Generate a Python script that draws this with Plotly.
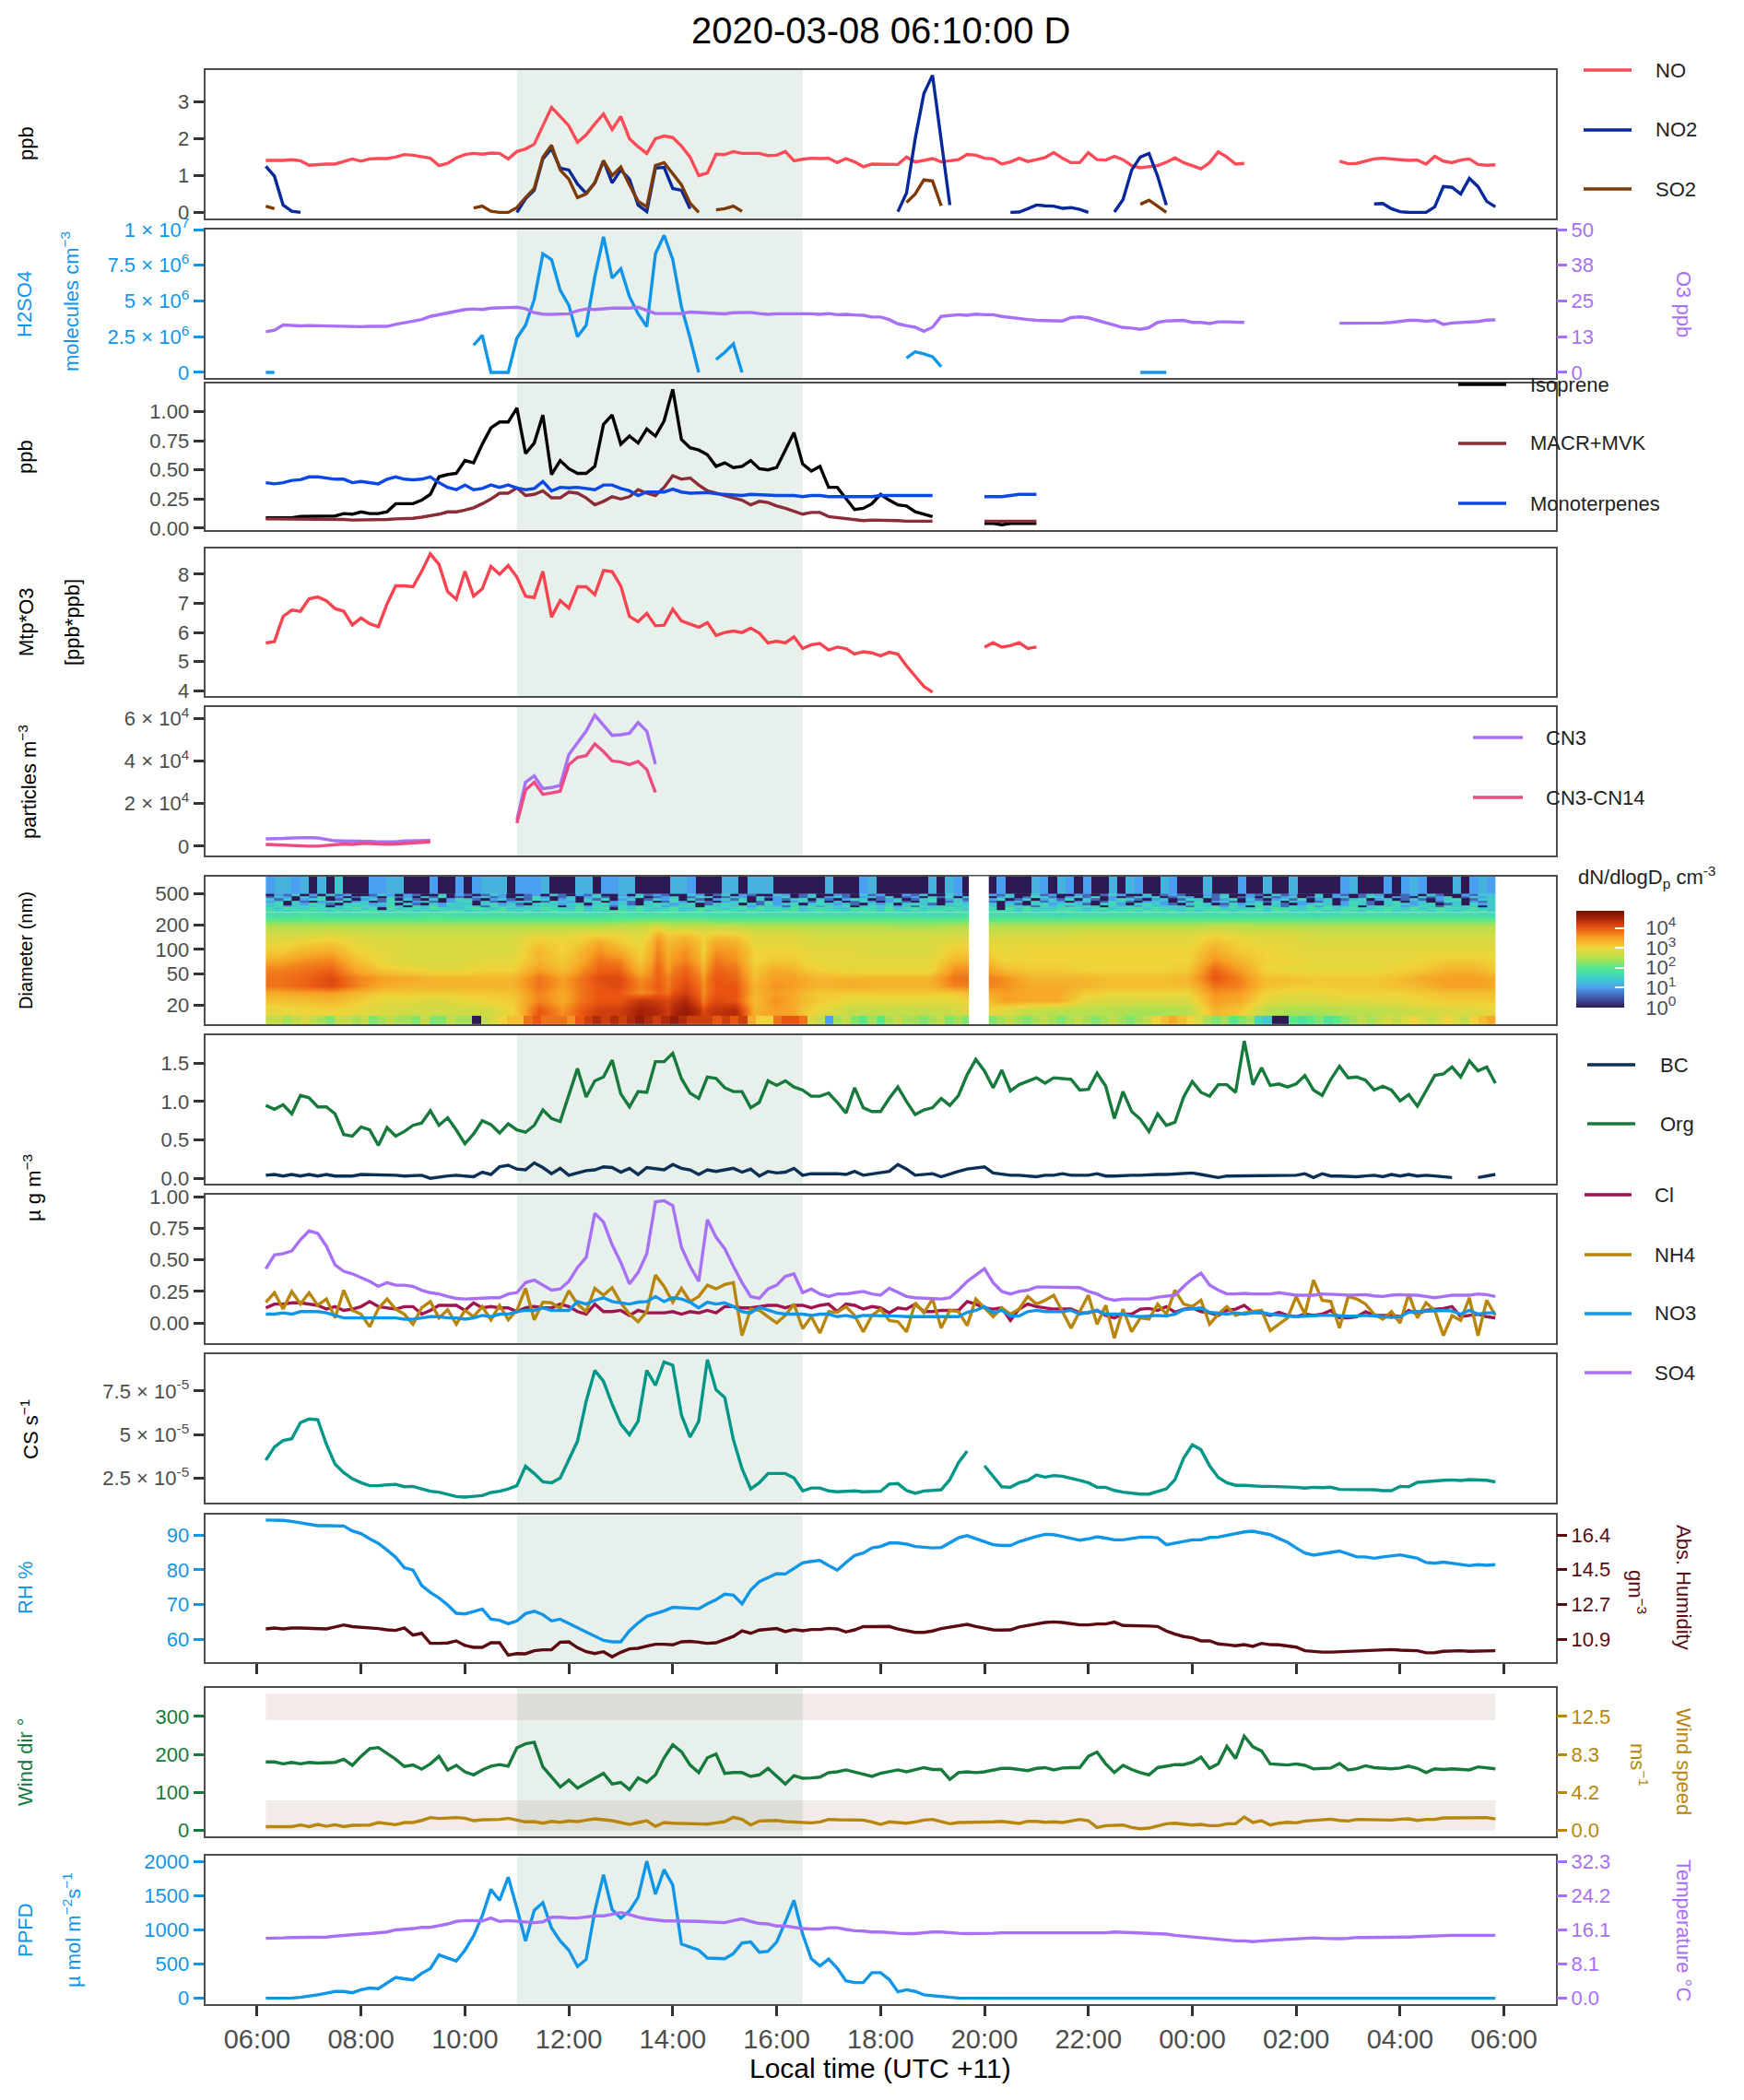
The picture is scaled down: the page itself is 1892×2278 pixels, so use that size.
import pandas as pd
import numpy as np
import plotly.graph_objects as go

W, H = 1892, 2278
_ = None
TIME = pd.date_range("2020-03-08 06:10", periods=143, freq="10min")

NO = [1.41,1.40,1.41,1.43,1.40,1.28,1.30,1.31,1.31,1.38,1.45,1.39,1.45,1.46,1.46,1.50,1.57,1.55,1.50,1.47,1.27,1.33,1.48,1.57,1.60,1.58,1.61,1.60,1.45,1.65,1.72,1.85,2.35,2.85,2.60,2.35,1.90,2.10,2.40,2.67,2.25,2.60,2.00,1.78,1.60,2.00,2.07,2.03,1.80,1.50,1.00,1.07,1.58,1.57,1.65,1.60,1.60,1.60,1.54,1.55,1.65,1.40,1.44,1.47,1.46,1.47,1.35,1.46,1.37,1.24,1.31,1.30,1.30,1.30,1.50,1.37,1.41,1.46,1.37,1.41,1.43,1.57,1.55,1.47,1.45,1.31,1.37,1.47,1.38,1.43,1.49,1.62,1.47,1.35,1.35,1.62,1.43,1.42,1.52,1.43,1.27,1.21,1.25,1.27,1.36,1.48,1.35,1.27,1.18,1.35,1.64,1.50,1.31,1.33] + [_]*10 + [1.39,1.32,1.33,1.39,1.45,1.47,1.44,1.43,1.41,1.42,1.31,1.52,1.39,1.35,1.42,1.45,1.30,1.28,1.29]
NO2 = [1.25,0.98,0.20,0.03,0.00] + [_]*24 + [0.00,0.37,0.60,1.45,1.73,1.20,1.15,0.77,0.52,0.80,1.40,0.80,1.15,0.90,0.20,0.02,1.20,1.22,0.65,0.60,0.10] + [_]*2 + [0.00] + [_]*20 + [0.02,0.53,2.00,3.22,3.72,2.00,0.20] + [_]*6 + [0.00,0.01,0.10,0.20,0.18,0.17,0.11,0.13,0.08,0.00] + [_]*2 + [0.01,0.35,1.15,1.50,1.60,0.98,0.20] + [_]*23 + [0.23,0.24,0.10,0.02,0.00,0.00,0.00,0.15,0.70,0.68,0.50,0.92,0.70,0.30,0.15]
SO2 = [0.17,0.10] + [_]*22 + [0.12,0.17,0.03,0.00,0.00,0.13,0.40,0.65,1.50,1.82,1.15,0.90,0.40,0.50,0.80,1.40,1.00,1.23,0.75,0.30,0.15,1.27,1.35,1.05,0.75,0.25,0.00,_,0.07,0.10,0.17,0.03] + [_]*18 + [0.27,0.50,0.88,0.85,0.18] + [_]*22 + [0.22,0.33,0.17,0.00]

H2SO4 = [0,0] + [_]*22 + [1.9,2.6,0,0,0,2.4,3.3,5.1,8.3,7.9,5.75,4.7,2.5,3.3,6.7,9.5,6.6,7.25,5.3,4.1,3.2,8.3,9.6,7.9,4.6,2.4,0,_,0.9,1.4,2.0,0] + [_]*18 + [1.0,1.45,1.3,1.1,0.4] + [_]*22 + [0,0,0,0]
O3 = [14.2,14.8,16.6,16.4,16.3,16.4,16.3,16.3,16.2,16.0,16.0,16.0,16.1,16.1,16.1,16.8,17.4,18.0,18.5,19.6,20.2,20.7,21.2,22.0,22.2,22.0,22.5,22.7,22.7,22.8,22.3,20.9,20.4,20.3,20.4,20.5,21.6,22.2,22.0,22.3,22.5,22.5,22.5,22.8,21.8,20.6,20.6,20.6,20.6,21.1,21.0,20.9,20.6,20.5,20.9,21.0,21.0,20.6,20.3,20.5,20.5,20.7,20.6,20.5,20.3,20.6,20.2,20.3,20.1,20.0,19.4,19.4,18.5,17.0,16.3,15.8,14.4,15.8,19.6,20.0,20.2,20.0,20.4,20.2,20.2,19.6,19.2,18.7,18.5,18.2,18.1,17.9,18.0,19.2,19.4,19.1,18.3,17.5,16.6,15.7,15.5,15.1,15.7,17.5,18.0,18.0,18.2,17.5,17.5,17.1,17.7,17.7,17.5,17.5] + [_]*10 + [17.2,17.2,17.2,17.3,17.3,17.3,17.5,17.9,18.2,18.2,17.9,18.2,16.8,17.3,17.5,17.7,17.8,18.3,18.4]

ISOPRENE = [0.09,0.09,0.09,0.09,0.10,0.10,0.10,0.10,0.105,0.125,0.12,0.14,0.125,0.125,0.14,0.21,0.21,0.21,0.24,0.29,0.44,0.46,0.47,0.58,0.56,0.72,0.86,0.91,0.91,1.03,0.64,0.73,0.97,0.46,0.58,0.51,0.47,0.47,0.53,0.89,0.97,0.72,0.79,0.73,0.85,0.79,0.92,1.19,0.76,0.69,0.67,0.63,0.53,0.56,0.52,0.53,0.58,0.51,0.50,0.52,0.67,0.82,0.55,0.49,0.53,0.35,0.35,0.25,0.16,0.17,0.21,0.29,0.24,0.20,0.19,0.14,0.12,0.10] + [_]*5 + [0.04,0.04,0.03,0.04,0.04,0.04,0.04]
MACR_MVK = [0.08,0.08,0.08,0.08,0.08,0.08,0.08,0.08,0.08,0.075,0.07,0.07,0.07,0.07,0.075,0.08,0.08,0.085,0.095,0.105,0.12,0.14,0.14,0.155,0.175,0.21,0.25,0.30,0.30,0.345,0.28,0.29,0.32,0.26,0.26,0.31,0.30,0.26,0.20,0.23,0.27,0.25,0.27,0.33,0.30,0.28,0.35,0.45,0.42,0.43,0.37,0.32,0.30,0.28,0.26,0.24,0.20,0.23,0.22,0.19,0.17,0.145,0.12,0.135,0.135,0.10,0.09,0.08,0.07,0.065,0.07,0.07,0.07,0.065,0.06,0.06,0.06,0.06] + [_]*5 + [0.06,0.06,0.06,0.06,0.06,0.06,0.06]
MONOTERPENES = [0.39,0.38,0.39,0.41,0.415,0.44,0.44,0.43,0.42,0.42,0.39,0.40,0.39,0.38,0.42,0.44,0.42,0.415,0.42,0.44,0.39,0.35,0.33,0.37,0.33,0.34,0.37,0.35,0.37,0.345,0.33,0.34,0.40,0.32,0.35,0.345,0.35,0.34,0.33,0.37,0.37,0.34,0.32,0.28,0.31,0.31,0.31,0.335,0.31,0.30,0.30,0.305,0.295,0.29,0.285,0.28,0.29,0.285,0.28,0.28,0.28,0.28,0.27,0.28,0.28,0.27,0.27,0.27,0.27,0.27,0.27,0.28,0.28,0.28,0.28,0.28,0.28,0.28] + [_]*5 + [0.27,0.27,0.27,0.28,0.29,0.29,0.29]

MTP_O3 = [5.64,5.69,6.55,6.77,6.73,7.16,7.22,7.09,6.82,6.73,6.26,6.50,6.30,6.20,6.98,7.60,7.60,7.57,8.10,8.70,8.34,7.40,7.14,8.10,7.25,7.50,8.27,8.00,8.30,7.90,7.25,7.20,8.10,6.53,7.10,6.84,7.57,7.57,7.30,8.13,8.09,7.60,6.55,6.37,6.66,6.23,6.25,6.80,6.40,6.28,6.18,6.34,5.90,6.00,6.05,6.00,6.15,5.98,5.64,5.70,5.64,5.85,5.45,5.58,5.62,5.40,5.50,5.45,5.26,5.34,5.30,5.20,5.32,5.26,4.85,4.50,4.15,3.95] + [_]*5 + [5.50,5.65,5.50,5.55,5.65,5.45,5.50]

CN3 = [0.34,0.34,0.36,0.38,0.40,0.40,0.38,0.30,0.25,0.24,0.24,0.22,0.22,0.20,0.20,0.20,0.24,0.26,0.27,0.27] + [_]*9 + [1.22,3.0,3.3,2.7,2.75,2.85,4.3,4.85,5.4,6.15,5.7,5.2,5.23,5.3,5.8,5.4,3.85]
CN3_CN14 = [0.08,0.06,0.05,0.03,0.01,0.00,0.00,0.03,0.08,0.10,0.08,0.12,0.12,0.10,0.09,0.10,0.13,0.16,0.18,0.20] + [_]*9 + [1.08,2.63,3.0,2.43,2.5,2.58,3.83,4.17,4.25,4.8,4.44,4.0,3.95,3.83,3.98,3.6,2.52]

BC = [0.04,0.05,0.03,0.05,0.03,0.05,0.03,0.05,0.03,0.03,0.03,0.05,0.05,0.04,0.05,0.04,0.03,0.04,0.04,0.00,0.02,0.03,0.04,0.03,0.02,0.08,0.05,0.15,0.17,0.12,0.11,0.20,0.14,0.06,0.13,0.04,0.07,0.10,0.11,0.15,0.14,0.08,0.13,0.05,0.14,0.13,0.11,0.18,0.13,0.11,0.05,0.11,0.09,0.11,0.13,0.08,0.12,0.03,0.09,0.07,0.08,0.13,0.04,0.06,0.06,0.07,0.06,0.05,0.09,0.04,0.06,0.07,0.09,0.18,0.12,0.04,0.05,0.06,0.02,0.06,0.09,0.12,0.14,0.15,0.07,0.05,0.04,0.04,0.03,0.02,0.04,0.04,0.06,0.04,0.04,0.04,0.06,0.03,0.03,0.04,0.04,0.04,0.05,0.05,0.05,0.06,0.06,0.07,0.05,0.03,0.01,0.03,0.03,0.03,0.04,0.04,0.04,0.04,0.03,0.04,0.06,0.01,0.06,0.03,0.03,0.02,0.02,0.03,0.04,0.02,0.05,0.03,0.05,0.03,0.04,0.03,0.02,0.01,_,_,0.01,0.03,0.05]
ORG = [0.95,0.90,0.96,0.84,1.08,1.05,0.93,0.93,0.84,0.57,0.55,0.67,0.63,0.43,0.66,0.55,0.61,0.69,0.72,0.88,0.69,0.79,0.63,0.45,0.58,0.75,0.70,0.59,0.71,0.63,0.60,0.69,0.89,0.78,0.74,1.10,1.43,1.06,1.27,1.32,1.54,1.10,0.93,1.13,1.12,1.52,1.52,1.63,1.30,1.11,1.04,1.32,1.30,1.18,1.13,1.13,0.92,0.99,1.27,1.21,1.27,1.19,1.15,1.07,1.07,1.11,0.99,0.85,1.18,0.92,0.87,0.87,1.04,1.19,1.00,0.83,0.89,0.92,1.04,0.95,1.08,1.35,1.55,1.40,1.18,1.41,1.14,1.22,1.27,1.31,1.24,1.31,1.30,1.29,1.15,1.16,1.37,1.20,0.78,1.13,0.87,0.77,0.61,0.84,0.69,0.73,1.06,1.26,1.12,1.07,1.22,1.22,1.12,1.79,1.22,1.44,1.21,1.23,1.19,1.23,1.34,1.15,1.08,1.29,1.46,1.31,1.32,1.28,1.15,1.20,1.15,1.01,1.09,0.94,1.14,1.34,1.36,1.45,1.32,1.53,1.40,1.45,1.24]

CL = [0.12,0.15,0.15,0.16,0.16,0.15,0.14,0.11,0.13,0.10,0.11,0.13,0.17,0.13,0.12,0.11,0.13,0.13,0.07,0.10,0.14,0.14,0.14,0.10,0.16,0.12,0.13,0.12,0.12,0.09,0.12,0.13,0.12,0.12,0.15,0.13,0.09,0.07,0.15,0.09,0.09,0.10,0.06,0.10,0.08,0.08,0.08,0.09,0.07,0.09,0.08,0.10,0.08,0.13,0.13,0.12,0.12,0.13,0.14,0.14,0.12,0.14,0.14,0.12,0.14,0.15,0.09,0.15,0.14,0.11,0.13,0.12,0.08,0.12,0.11,0.15,0.09,0.09,0.10,0.10,0.10,0.17,0.15,0.12,0.11,0.12,0.02,0.11,0.15,0.13,0.12,0.11,0.11,0.11,0.08,0.08,0.10,0.06,0.04,0.07,0.07,0.11,0.115,0.10,0.13,0.085,0.11,0.12,0.09,0.08,0.06,0.10,0.11,0.14,0.085,0.08,0.06,0.085,0.06,0.05,0.07,0.06,0.07,0.10,0.04,0.04,0.05,0.09,0.06,0.06,0.06,0.05,0.10,0.07,0.10,0.11,0.115,0.13,0.05,0.06,0.07,0.05,0.04]
NH4 = [0.165,0.24,0.11,0.25,0.15,0.24,0.14,0.19,0.04,0.26,0.10,0.07,-0.03,0.115,0.19,0.11,0.07,-0.01,0.12,0.17,0.04,0.105,-0.01,0.10,0.05,0.13,0.025,0.14,0.025,0.10,0.275,0.025,0.165,0.16,0.115,0.255,0.15,0.09,0.275,0.22,0.28,0.16,0.07,0.01,0.09,0.38,0.29,0.165,0.275,0.17,0.21,0.30,0.27,0.305,0.32,-0.10,0.11,0.10,0.05,0.00,0.06,0.15,-0.045,0.05,-0.08,0.09,0.085,0.13,0.06,-0.07,0.06,0.11,0.02,0.01,-0.07,0.16,0.08,0.19,-0.04,0.10,0.09,-0.02,0.19,0.12,0.05,0.12,0.07,0.11,0.21,0.15,0.18,0.22,0.09,-0.04,0.09,0.22,-0.01,0.14,-0.12,0.11,-0.07,0.04,0.03,0.15,0.07,0.26,0.15,0.13,0.18,-0.01,0.07,0.13,0.06,0.08,0.09,0.10,-0.06,-0.01,0.04,0.21,0.07,0.34,0.18,0.17,-0.04,0.21,0.19,0.15,0.07,0.03,0.09,0.00,0.23,0.04,0.16,0.10,-0.10,0.06,0.02,0.20,-0.10,0.18,0.06]
NO3 = [0.07,0.07,0.08,0.07,0.09,0.09,0.09,0.08,0.06,0.04,0.04,0.04,0.04,0.04,0.04,0.04,0.03,0.03,0.04,0.05,0.05,0.04,0.04,0.03,0.04,0.06,0.05,0.07,0.07,0.09,0.10,0.10,0.12,0.10,0.10,0.10,0.17,0.15,0.18,0.20,0.17,0.16,0.15,0.165,0.17,0.21,0.17,0.20,0.19,0.165,0.12,0.165,0.15,0.16,0.13,0.09,0.08,0.125,0.10,0.08,0.07,0.07,0.07,0.06,0.07,0.07,0.05,0.06,0.045,0.06,0.06,0.06,0.055,0.055,0.05,0.05,0.05,0.05,0.055,0.055,0.05,0.085,0.10,0.13,0.08,0.10,0.055,0.055,0.09,0.10,0.09,0.09,0.09,0.10,0.07,0.085,0.10,0.07,0.07,0.07,0.055,0.05,0.055,0.06,0.055,0.07,0.105,0.11,0.12,0.085,0.08,0.07,0.08,0.07,0.08,0.085,0.07,0.06,0.055,0.05,0.055,0.06,0.06,0.06,0.055,0.055,0.055,0.06,0.055,0.05,0.045,0.05,0.085,0.09,0.095,0.10,0.10,0.095,0.07,0.10,0.07,0.08,0.08]
SO4 = [0.43,0.54,0.55,0.57,0.66,0.73,0.71,0.61,0.46,0.41,0.39,0.36,0.33,0.29,0.32,0.30,0.30,0.29,0.26,0.24,0.23,0.21,0.195,0.19,0.195,0.20,0.20,0.20,0.23,0.24,0.32,0.34,0.30,0.26,0.27,0.33,0.44,0.52,0.87,0.80,0.62,0.48,0.31,0.40,0.55,0.96,0.97,0.93,0.60,0.45,0.33,0.82,0.68,0.59,0.45,0.32,0.21,0.195,0.27,0.30,0.37,0.39,0.24,0.27,0.23,0.21,0.23,0.23,0.24,0.25,0.23,0.22,0.275,0.24,0.21,0.20,0.195,0.195,0.19,0.20,0.26,0.33,0.38,0.43,0.32,0.25,0.23,0.25,0.26,0.285,0.285,0.285,0.28,0.28,0.28,0.25,0.23,0.195,0.18,0.19,0.19,0.195,0.19,0.205,0.21,0.22,0.29,0.35,0.395,0.30,0.26,0.23,0.23,0.235,0.23,0.23,0.23,0.24,0.23,0.22,0.22,0.22,0.23,0.23,0.225,0.22,0.22,0.225,0.215,0.21,0.22,0.225,0.22,0.22,0.21,0.20,0.21,0.22,0.22,0.22,0.23,0.225,0.21]

CS = [3.54,4.30,4.67,4.77,5.69,5.90,5.86,4.45,3.31,2.83,2.48,2.25,2.08,2.08,2.13,2.16,2.02,2.04,1.90,1.76,1.71,1.60,1.46,1.43,1.46,1.51,1.69,1.76,1.90,2.08,3.19,2.78,2.30,2.25,2.52,3.60,4.63,6.92,8.68,8.06,6.74,5.60,5.00,5.77,8.68,7.83,9.17,8.98,6.13,4.86,5.77,9.30,7.57,7.13,4.72,3.05,1.90,2.25,2.78,2.78,2.78,2.52,1.78,1.95,1.95,1.78,1.73,1.76,1.78,1.73,1.76,1.76,2.17,2.20,1.81,1.64,1.78,1.83,1.85,2.43,3.40,4.07,_,3.22,2.60,2.02,1.99,2.25,2.38,2.69,2.57,2.66,2.62,2.52,2.38,2.25,1.99,1.99,1.81,1.71,1.64,1.60,1.60,1.73,1.90,2.43,3.66,4.42,4.14,3.22,2.55,2.25,2.10,2.10,2.06,2.04,2.04,2.02,2.04,1.99,1.94,1.99,1.97,1.99,1.87,1.87,1.89,1.89,1.85,1.80,1.80,2.04,2.02,2.27,2.32,2.38,2.39,2.41,2.38,2.43,2.39,2.39,2.30]

RH = [94.3,94.3,94.2,93.9,93.5,93.0,92.7,92.7,92.6,92.6,91.2,90.4,88.9,87.6,85.7,83.6,80.6,79.9,75.5,73.5,71.9,69.9,67.5,67.3,68.0,68.7,65.8,65.5,64.5,65.3,67.4,68.1,67.1,65.3,65.8,64.6,63.3,62.2,61.1,59.7,59.3,59.3,62.5,64.7,66.6,67.3,68.2,69.2,69.1,69.1,68.8,70.2,71.4,73.0,72.7,70.2,74.2,76.6,77.7,78.9,78.8,80.5,82.0,82.4,82.7,81.2,79.9,82.1,84.1,84.8,86.3,86.7,87.7,87.7,87.4,86.7,86.4,86.3,86.4,87.9,89.2,89.8,88.9,87.9,87.2,87.0,87.0,88.1,88.9,89.6,90.2,90.1,89.6,89.0,88.5,88.9,89.5,89.1,88.6,88.6,88.9,89.4,89.4,89.2,87.2,87.7,88.1,88.6,88.6,89.3,89.4,89.9,90.4,90.9,91.1,90.7,90.1,89.0,87.9,86.3,84.8,84.2,84.5,85.0,85.4,84.6,83.7,83.7,83.3,83.7,84.0,84.3,83.8,83.3,82.1,81.9,82.2,81.9,81.7,81.2,81.5,81.3,81.5]
ABS_HUM = [11.45,11.50,11.45,11.50,11.50,11.48,11.47,11.45,11.55,11.66,11.57,11.55,11.53,11.47,11.40,11.37,11.50,11.13,11.22,10.69,10.69,10.71,10.82,10.58,10.48,10.48,10.72,10.72,10.07,10.15,10.14,10.30,10.35,10.35,10.75,10.77,10.46,10.25,10.15,10.25,9.98,10.22,10.40,10.43,10.54,10.64,10.64,10.61,10.77,10.79,10.75,10.69,10.72,10.88,11.05,11.35,11.22,11.39,11.44,11.47,11.31,11.42,11.35,11.42,11.42,11.48,11.45,11.29,11.40,11.57,11.57,11.57,11.58,11.44,11.37,11.27,11.27,11.34,11.47,11.55,11.60,11.69,11.58,11.47,11.40,11.39,11.40,11.55,11.61,11.71,11.79,11.82,11.79,11.73,11.66,11.66,11.71,11.71,11.81,11.63,11.63,11.60,11.60,11.58,11.34,11.18,11.05,10.98,10.82,10.82,10.66,10.62,10.56,10.62,10.53,10.69,10.62,10.61,10.53,10.49,10.30,10.25,10.23,10.23,10.25,10.25,10.27,10.28,10.30,10.33,10.36,10.33,10.32,10.30,10.19,10.20,10.27,10.30,10.30,10.27,10.28,10.28,10.30]

WIND_DIR = [180,180,175,179,175,179,177,177,179,187,171,195,215,218,203,187,168,172,161,175,195,159,171,154,146,159,169,173,169,217,228,232,167,142,114,132,111,124,136,150,122,126,107,138,126,146,191,225,207,172,152,191,201,150,152,152,142,146,163,142,122,144,137,138,140,152,154,159,154,149,142,150,154,159,154,160,165,160,160,134,152,154,152,154,159,163,163,159,157,163,165,159,164,165,165,195,206,175,152,171,160,152,146,165,170,173,173,179,193,163,175,221,189,248,220,209,175,173,172,175,171,162,163,164,176,159,162,170,165,164,162,164,169,163,152,162,160,162,160,159,167,165,162]
WIND_SPEED = [0.40,0.40,0.40,0.40,0.58,0.40,0.64,0.44,0.61,0.40,0.54,0.54,0.58,0.85,0.75,0.61,0.85,0.85,1.08,1.39,1.29,1.32,1.39,1.32,1.05,1.15,1.15,1.19,1.32,1.12,0.92,0.95,0.78,0.98,0.88,1.02,0.95,1.12,1.25,1.15,1.05,0.85,0.64,0.85,1.05,0.44,0.85,0.78,0.75,0.78,0.75,0.68,0.81,0.95,1.42,1.19,0.58,1.02,1.05,1.08,0.95,0.92,0.81,0.81,0.92,1.19,1.15,1.12,1.08,1.12,0.92,0.64,0.92,0.85,0.78,0.92,1.12,1.19,0.92,0.71,0.85,0.85,0.85,0.85,0.92,0.98,0.85,0.75,0.98,0.98,0.88,0.92,0.85,1.05,1.19,1.05,0.30,0.51,0.51,0.58,0.30,0.17,0.24,0.44,0.71,0.78,0.64,0.58,0.64,0.51,0.51,0.71,0.71,1.46,0.85,1.05,0.58,0.78,0.88,0.81,1.02,1.08,1.19,1.22,1.08,1.02,1.19,1.19,1.15,1.12,1.12,1.22,1.25,1.08,1.19,1.19,1.36,1.36,1.36,1.39,1.32,1.39,1.25]

PPFD = [0,0,0,3,14,27,50,75,100,100,80,125,150,140,225,305,285,270,365,435,635,590,545,705,915,1210,1595,1435,1775,1320,840,1290,1400,1030,840,705,465,570,1280,1810,1300,1175,1280,1480,2010,1525,1885,1660,795,750,705,590,580,580,655,810,825,675,690,825,1120,1435,940,580,475,575,440,255,230,230,375,375,275,95,125,100,50,35,22,14,3] + [0]*62
TEMPERATURE = [14.2,14.2,14.3,14.4,14.4,14.4,14.5,14.5,14.7,14.9,15.0,15.2,15.3,15.5,15.7,16.2,16.3,16.5,16.8,16.8,17.2,17.6,18.2,18.4,18.4,18.3,19.0,18.2,18.4,18.2,18.1,17.9,18.1,19.2,19.2,19.0,19.0,19.2,19.5,19.5,19.9,20.3,19.8,19.2,18.8,18.6,18.3,18.3,18.3,18.3,18.2,18.1,18.0,17.9,18.4,18.8,18.2,17.7,17.6,17.1,17.1,16.8,16.5,16.4,16.4,16.7,16.7,16.3,16.0,15.9,15.7,15.7,15.5,15.4,15.3,15.3,15.5,15.7,15.7,15.5,15.4,15.3,15.3,15.3,15.4,15.5,15.5,15.5,15.5,15.5,15.5,15.5,15.5,15.5,15.5,15.5,15.5,15.5,15.7,15.6,15.5,15.4,15.4,15.2,15.2,14.9,14.7,14.5,14.3,14.1,13.9,13.7,13.6,13.6,13.4,13.6,13.7,13.9,13.9,14.1,14.2,14.3,14.2,14.1,14.1,14.2,14.4,14.4,14.4,14.4,14.4,14.4,14.5,14.6,14.7,14.7,14.8,14.9,14.9,14.9,14.9,14.9,14.9]

# Size-distribution heatmap, log10(dN/dlogDp)
DIAM_MAIN_EDGES = [14.9,20.4,26.5,31.6,39.4,49.4,64.2,83.0,109,142,177,212,253,293]
DIAM_SPECKLE_EDGES = [293,313,335,358,382,408,436,466,500]
DIAM_BOTTOM_EDGES = [11.7,14.9]
DIAM_TOP_EDGES = [500,819]
HEAT_EDGES = pd.date_range("2020-03-08 06:10", "2020-03-09 05:50", periods=144)
MAIN_EDGE_LABELS = ["06:10","06:40","07:10","07:40","08:10","08:40","09:10","09:40","10:10","10:40","11:10","11:40","12:05","12:25","12:45","13:10","13:35","13:50","14:00","14:30","14:40","15:00","15:25","15:45","16:10","16:30","17:10","17:40","18:10","18:40","19:10","19:40","20:10","20:40","21:10","21:40","22:10","22:40","23:10","23:40"]
MAIN_EDGE_LABELS_NEXT = ["00:10","00:40","01:10","01:40","02:10","02:40","03:10","03:40","04:10","04:40","05:10","05:40","05:50"]
MAIN_TIMES = [pd.Timestamp("2020-03-08 "+s) for s in MAIN_EDGE_LABELS] + [pd.Timestamp("2020-03-09 "+s) for s in MAIN_EDGE_LABELS_NEXT]
PSD_MAIN = [
[29,30,30,29,28,27,27,27,27,30, 40,36,40,42,42,45,44,42,46,41,43,44,33,35,34,29, 26,26,26,26,27,30,28,26,25,25,25,24,24,25,33,31,25,24,24,25,25,26,27,28,28,29],
[32,32,33,31,29,29,28,29,30,31, 37,34,38,40,40,43,42,41,44,37,41,40,32,36,34,31, 29,29,29,29,29,31,35,34,34,29,28,28,28,28,35,34,29,28,28,29,29,29,30,31,31,31],
[34,35,35,33,31,31,31,31,31,32, 37,34,38,40,40,36,39,38,42,36,40,40,33,35,34,31, 31,31,31,31,31,34,35,34,34,31,30,30,30,30,36,35,30,29,29,30,30,30,31,32,32,32],
[38,39,41,37,34,33,33,33,33,33, 38,35,38,40,41,37,40,37,41,36,40,40,33,36,35,33, 34,33,33,33,37,37,36,34,34,33,32,32,32,32,38,37,32,31,31,31,31,32,33,35,35,34],
[38,39,41,37,35,34,33,33,33,33, 38,35,38,41,41,36,39,37,40,35,40,39,32,35,35,33, 33,33,33,33,38,38,36,33,33,33,32,32,32,33,40,37,32,32,31,31,31,32,34,35,35,34],
[37,38,39,34,31,30,29,29,30,30, 35,32,36,39,39,33,39,35,39,33,39,38,31,34,33,30, 29,29,29,29,36,36,32,31,31,30,30,30,30,31,39,35,30,29,29,29,29,30,31,33,33,31],
[34,36,37,32,29,28,28,28,29,29, 33,31,34,38,37,31,38,34,37,31,38,36,30,31,31,29, 29,29,29,29,33,33,30,30,30,30,30,30,30,30,36,33,30,30,29,29,29,29,30,31,31,30],
[31,33,34,30,29,28,28,28,28,28, 33,30,33,36,34,30,37,33,36,30,36,35,30,30,30,29, 29,28,28,28,31,31,29,30,30,30,30,30,30,30,34,31,30,29,29,29,29,29,29,29,29,29],
[29,30,31,29,28,28,28,28,28,28, 31,30,31,34,31,29,36,32,34,30,34,33,29,29,29,28, 28,28,28,28,29,29,29,29,29,29,29,29,29,29,32,30,29,29,28,28,28,28,28,28,28,28],
[27,27,28,27,27,27,27,27,27,27, 28,28,29,29,29,28,33,30,31,29,30,30,28,28,28,27, 27,27,27,27,27,27,27,27,27,28,28,28,28,28,29,28,28,28,27,27,27,27,27,27,27,27],
[25,25,25,25,25,25,25,25,25,25, 25,25,25,25,26,26,28,26,26,26,26,26,25,25,25,25, 25,25,24,24,25,25,25,25,25,25,25,25,25,25,26,26,25,25,25,25,25,25,25,25,25,25],
[21,21,21,21,21,21,21,21,21,21, 21,21,21,21,21,22,22,22,22,22,21,21,21,21,21,21, 21,21,21,21,21,21,21,21,21,21,21,21,21,21,21,21,21,21,21,21,21,21,21,21,21,21],
[17,18,17,17,17,17,18,17,17,17, 17,17,17,17,18,17,18,18,17,17,17,17,17,17,17,17, 17,17,17,16,17,17,17,17,16,17,17,17,17,17,17,17,17,17,16,17,17,17,17,17,17,16],
]
PSD_BOTTOM = "ddcdedcbdd" "cdbcdccbdb" "bdcc0defgg" "jkjjjiklml" "mlmnmlmnml" "llklklhffj" "kkjed5cdba" "cacdccbcdb" "cbbbbcdcbc" "dcbcdcbcdc" "bcdfghgfec" "bcabc8700a" "9ab9abcdcd" "edefedefed" "fgh"
PSD_TOP = "5665606070" "0055660005" "0050566605" "5560006605" "5660000665" "0006606660" "0000060005" "6000000606" "5000050006" "5065050060" "6500650006" "0005006006" "0000056000" "5056500060" "565"
PSD_SPECKLE = [
"9878988797899879878789978899879789889787998978897897998798789978988789979878899798789987978899878798979889787989798879978897898798978897987989",
"8798798878978097887987789879787898879789087987897798878979887978987798879789788987798097987789878978897987798897878979887989789878987978988797",
"7857878078787587087857787387858778078587387878578708787858773878587807878573878778587078738785787087858778738785870787387858778078785787387870",
"7807587307875780730758770785730787578078573078757803787073857807875730758078730787587073078578730785078753078703857807305787058730787578037085",
"5707305780570387057305780730577038750780573070385073057803750573807037505730780375073057083750570387305750738057305738075037058730780570387053",
"7370578037057380730705873057303870570738057037580730573807053780730587035703780573075803705738073058730570387035807305738057037805703730578037",
"3750738050375073507380305735073850370573075803570387037507358037057305738035073807350570387305738050375803750738035073580370570387053073580375",
"0537050735003750530070530375003507305370050735300750370530075037005307350053700750305370073500530375007035300537005307350070530375003507300537",
]

SC = [[0,"#2d1a55"],[0.08,"#3f4a9c"],[0.206,"#4a9ff0"],[0.31,"#3fd3c4"],[0.41,"#55e88a"],[0.51,"#b4e04e"],[0.617,"#f0d43a"],[0.72,"#f7a024"],[0.823,"#ea5512"],[0.92,"#a82208"],[1,"#701005"]]

BORDER = "#4d4d4d"
TICKTXT = "#4d4d4d"
C_RED,C_NAVY,C_BROWN = "#ff4b57","#05299c","#7d3a06"
C_BLUE,C_PURPLE = "#1096e8","#a870f7"
C_GREEN,C_GOLD = "#167a3c","#b8860b"
FONT = "Liberation Sans"

PANELS = [(76,237),(249,410),(416,575),(594.5,755),(767,928),(950.5,1111),(1122.5,1284),(1296,1457),(1469,1630),(1642.5,1803),(1831,1992),(2013,2174)]
LEFT, RIGHT = 222.6, 1688
MT, MB = 40, 40
def fy(py): return (H-MB-py)/(H-MT-MB)

def xn(n): return "x" if n==1 else f"x{n}"
def yn(n): return "y" if n==1 else f"y{n}"

fig = go.Figure()
layout = dict(width=W, height=H, autosize=False, margin=dict(l=0,r=0,t=MT,b=MB,pad=0), paper_bgcolor="white", plot_bgcolor="white", showlegend=False, font=dict(family=FONT))

def ydom(p): return [fy(p[1]), fy(p[0])]
XR = ["2020-03-08 05:00","2020-03-09 07:00"]
for n,p in enumerate(PANELS,1):
    lbl = n==12
    tk = n in (10,12)
    layout[f"xaxis{n}"] = dict(domain=[LEFT/W,RIGHT/W], anchor=yn(n), type="date", range=XR, tick0="2020-03-08 06:00", dtick=7200000,
        tickformat="%H:%M", showgrid=False, zeroline=False, showline=True, mirror=True, linecolor=BORDER, linewidth=2,
        ticks="outside" if tk else "", ticklen=11, tickwidth=2.5, tickcolor="#333333", showticklabels=lbl,
        tickfont=dict(size=29,color=TICKTXT,family=FONT))

def yax(n, rng, vals, text=None, color=None, right=False):
    d = dict(range=rng, tickvals=vals, ticktext=text if text else [str(v) for v in vals], showgrid=False, zeroline=False,
             ticks="outside", ticklen=11, tickwidth=3, tickcolor=color or "#333333",
             tickfont=dict(size=22,color=color or TICKTXT,family=FONT))
    if right:
        d.update(overlaying=yn(n), side="right", anchor=xn(n), showline=False)
        layout[f"yaxis{12+n}"] = d
    else:
        d.update(domain=ydom(PANELS[n-1]), anchor=xn(n), showline=True, mirror=True, linecolor=BORDER, linewidth=2)
        layout[f"yaxis{n}"] = d

def line(n, y, color, right=False, w=3.4):
    fig.add_trace(go.Scatter(x=TIME, y=y, mode="lines", line=dict(color=color,width=w), xaxis=xn(n), yaxis=f"y{12+n}" if right else yn(n), hoverinfo="skip"))

sci = lambda m,e: f"{m} × 10<sup>{e}</sup>"

yax(1,[-0.165,3.86],[0,1,2,3])
line(1,NO,C_RED); line(1,NO2,C_NAVY); line(1,SO2,C_BROWN)

yax(2,[-0.39e6,1.0e7],[0,2.5e6,5e6,7.5e6,1e7],["0",sci(2.5,6),sci(5,6),sci(7.5,6),sci(1,7)],C_BLUE)
yax(2,[-1.95,50],[0,12.5,25,37.5,50],["0","13","25","38","50"],C_PURPLE,right=True)
line(2,[None if v is None else v*1e6 for v in H2SO4],C_BLUE); line(2,O3,C_PURPLE,right=True)

yax(3,[-0.016,1.24],[0,0.25,0.5,0.75,1.0],["0.00","0.25","0.50","0.75","1.00"])
line(3,ISOPRENE,"#000000"); line(3,MACR_MVK,"#8b2d36"); line(3,MONOTERPENES,"#0a48ea")

yax(4,[3.82,8.9],[4,5,6,7,8])
line(4,MTP_O3,"#f9434f")

yax(5,[-0.44e4,6.53e4],[0,2e4,4e4,6e4],["0",sci(2,4),sci(4,4),sci(6,4)])
line(5,[None if v is None else v*1e4 for v in CN3],C_PURPLE); line(5,[None if v is None else v*1e4 for v in CN3_CN14],"#ee4b85")

# heatmap
lg = np.log10
yax(6,[lg(11.7),lg(819)],[lg(20),lg(50),lg(100),lg(200),lg(500)],["20","50","100","200","500"])
dec = lambda s: [int(c,36)*0.2 for c in s.ljust(143,"7")[:143]]
hk = dict(xaxis="x6",yaxis="y6",coloraxis="coloraxis",hoverinfo="skip")
fig.add_trace(go.Heatmap(x=MAIN_TIMES,y=lg(DIAM_MAIN_EDGES),z=[[v/10 for v in r] for r in PSD_MAIN],zsmooth="best",**hk))
fig.add_trace(go.Heatmap(x=HEAT_EDGES,y=lg(DIAM_BOTTOM_EDGES),z=[dec(PSD_BOTTOM)],**hk))
fig.add_trace(go.Heatmap(x=HEAT_EDGES,y=lg(DIAM_SPECKLE_EDGES),z=[dec(r) for r in PSD_SPECKLE],**hk))
fig.add_trace(go.Heatmap(x=HEAT_EDGES,y=lg(DIAM_TOP_EDGES),z=[dec(PSD_TOP)],**hk))
layout["coloraxis"] = dict(cmin=0,cmax=4.86,colorscale=SC,colorbar=dict(x=1710/W,xanchor="left",y=fy(1040.5),yanchor="middle",
    lenmode="pixels",len=105,thicknessmode="pixels",thickness=52,outlinewidth=0,xpad=0,ypad=0,
    tickvals=[0,1,2,3,4],ticktext=[f"\u00a0\u00a0\u00a010<sup>{i}</sup>" for i in range(5)],ticks="inside",ticklen=10,tickwidth=2,tickcolor="white",
    tickfont=dict(size=22,color=TICKTXT,family=FONT)))

yax(7,[-0.07,1.87],[0,0.5,1.0,1.5],["0.0","0.5","1.0","1.5"])
line(7,BC,"#0b2f55"); line(7,ORG,C_GREEN)

yax(8,[-0.16,1.017],[0,0.25,0.5,0.75,1.0],["0.00","0.25","0.50","0.75","1.00"])
line(8,CL,"#a0144f"); line(8,NH4,C_GOLD); line(8,SO4,C_PURPLE); line(8,NO3,C_BLUE)

yax(9,[1.11e-5,9.61e-5],[2.5e-5,5e-5,7.5e-5],[sci(2.5,"-5"),sci(5,"-5"),sci(7.5,"-5")])
line(9,[None if v is None else v*1e-5 for v in CS],"#009688")

yax(10,[53.45,96],[60,70,80,90],None,C_BLUE)
yax(10,[9.7,17.5],[10.9,12.73,14.57,16.4],["10.9","12.7","14.5","16.4"],"#5c0a12",right=True)
line(10,RH,C_BLUE); line(10,ABS_HUM,"#5c0a12",right=True)

yax(11,[-16,375],[0,100,200,300],None,C_GREEN)
yax(11,[-0.667,15.625],[0,4.17,8.33,12.5],["0.0","4.2","8.3","12.5"],C_GOLD,right=True)
line(11,WIND_DIR,C_GREEN); line(11,WIND_SPEED,C_GOLD,right=True)

yax(12,[-86,2090],[0,500,1000,1500,2000],None,C_BLUE)
yax(12,[-1.39,33.76],[0,8.08,16.15,24.2,32.3],["0.0","8.1","16.1","24.2","32.3"],C_PURPLE,right=True)
line(12,PPFD,C_BLUE); line(12,TEMPERATURE,C_PURPLE,right=True)

shapes = []
for yr in [(0,79),(290,360)]:
    shapes.append(dict(type="rect",xref="x11",yref="y11",x0=TIME[0],x1=TIME[-1],y0=yr[0],y1=yr[1],fillcolor="rgba(150,70,60,0.11)",line_width=0,layer="below"))
for n in range(1,13):
    if n==6: continue
    shapes.append(dict(type="rect",xref=xn(n),yref=f"{yn(n)} domain",x0="2020-03-08 11:00",x1="2020-03-08 16:30",y0=0,y1=1,fillcolor="rgba(40,120,60,0.11)",line_width=0,layer="below"))
shapes.append(dict(type="rect",xref="x6",yref="y6 domain",x0="2020-03-08 19:42",x1="2020-03-08 20:05",y0=0,y1=1,fillcolor="white",line_width=0,layer="above"))

anns = []
def txt(x,y,s,size=22,color="#000000",angle=0,xanchor="center"):
    anns.append(dict(xref="paper",yref="paper",x=x/W,y=fy(y),text=s,showarrow=False,font=dict(size=size,color=color,family=FONT),textangle=angle,xanchor=xanchor,yanchor="middle"))

txt(955,33,"2020-03-08 06:10:00 D",size=40)
txt(955,2243,"Local time (UTC +11)",size=30)
L = -90; R = 90
txt(28,156,"ppb",angle=L)
txt(27,330,"H2SO4",color=C_BLUE,angle=L); txt(76,327,"molecules cm<sup>−3</sup>",color=C_BLUE,angle=L)
txt(1826,330,"O3 ppb",color=C_PURPLE,angle=R)
txt(28,496,"ppb",angle=L)
txt(28,675,"Mtp*O3",angle=L); txt(78,675,"[ppb*ppb]",angle=L)
txt(30,848,"particles m<sup>−3</sup>",angle=L)
txt(28,1031,"Diameter (nm)",size=20,angle=L)
txt(35,1289,"µ g m<sup>−3</sup>",angle=L)
txt(32,1551,"CS s<sup>−1</sup>",angle=L)
txt(27,1723,"RH %",color=C_BLUE,angle=L)
txt(1827,1722,"Abs. Humidity",color="#5c0a12",angle=R); txt(1776,1727,"gm<sup>−3</sup>",color="#5c0a12",angle=R)
txt(27,1911,"Wind dir °",color=C_GREEN,angle=L)
txt(1827,1911,"Wind speed",color=C_GOLD,angle=R); txt(1778,1914,"ms<sup>−1</sup>",color=C_GOLD,angle=R)
txt(27,2094,"PPFD",color=C_BLUE,angle=L); txt(78,2094,"µ mol m<sup>−2</sup>s<sup>−1</sup>",color=C_BLUE,angle=L)
txt(1827,2094,"Temperature °C",color=C_PURPLE,angle=R)
txt(1710,952,"dN/dlogD<sub>p</sub> cm<sup>-3</sup>",size=22,color="#222222",xanchor="left")

LEGENDS = [
 (1718,1770,1794,[("NO",76,C_RED),("NO2",141,C_NAVY),("SO2",205,C_BROWN)]),
 (1582,1634,1658,[("Isoprene",417,"#000000"),("MACR+MVK",481,"#8b2d36"),("Monoterpenes",546,"#0a48ea")]),
 (1598,1652,1675,[("CN3",800,C_PURPLE),("CN3-CN14",865,"#ee4b85")]),
 (1722,1774,1799,[("BC",1155,"#0b2f55"),("Org",1219,C_GREEN)]),
 (1719,1770,1793,[("Cl",1296,"#a0144f"),("NH4",1361,C_GOLD),("NO3",1425,C_BLUE),("SO4",1489,C_PURPLE)]),
]
for x0,x1,xt,items in LEGENDS:
    for name,y,c in items:
        shapes.append(dict(type="line",xref="paper",yref="paper",x0=x0/W,x1=x1/W,y0=fy(y),y1=fy(y),line=dict(color=c,width=3.5)))
        txt(xt,y,name,size=22,color="#222222",xanchor="left")

layout["shapes"] = shapes
layout["annotations"] = anns
fig.update_layout(**layout)
fig.write_html("out.html", config={"displayModeBar":False}, post_script="document.body.style.margin='0';document.body.style.overflow='hidden';")
